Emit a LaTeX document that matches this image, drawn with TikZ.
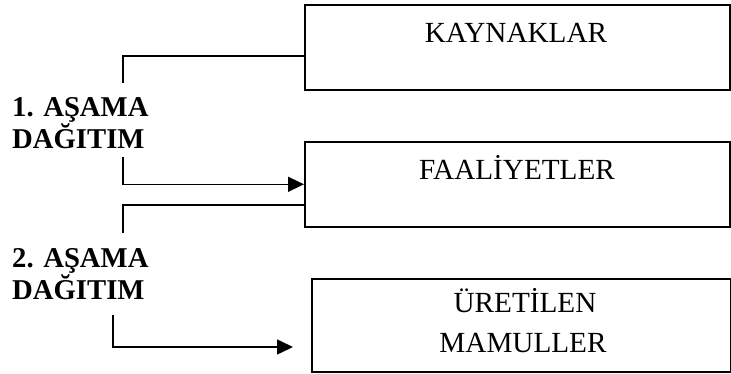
\documentclass[tikz,border=0pt]{standalone}
\usepackage{fontspec}
\setmainfont{Liberation Serif}
\usetikzlibrary{arrows.meta,calc}
\begin{document}
\begin{tikzpicture}[x=1pt,y=-1pt,
  box/.style={draw=black,line width=1.6pt,inner sep=0pt,anchor=north west},
  boxtext/.style={font=\fontsize{29.2}{35}\selectfont,anchor=base,inner sep=0pt},
  stagetext/.style={font=\fontsize{28.7}{34}\selectfont\bfseries,anchor=base west,inner sep=0pt},
  conn/.style={line width=1.5pt},
  arr/.style={line width=1.5pt,-{Triangle[length=16pt,width=15pt]}}]
\useasboundingbox (0,0) rectangle (731,374);
% boxes
\node[box,minimum width=425pt,minimum height=85pt] (k) at (304,4) {};
\node[box,minimum width=425pt,minimum height=85pt] (f) at (304,141) {};
\node[box,minimum width=419pt,minimum height=93pt] (u) at (311,278) {};
% box texts
\node[boxtext] (kt) at (516,43) {KAYNAKLAR};
\node[boxtext] (ft) at (517,180) {FAALİYETLER};
\node[boxtext] (ut1) at (525,312) {ÜRETİLEN};
\node[boxtext] (ut2) at (523,352) {MAMULLER};
% stage labels
\node[stagetext] (s1a) at (12,117) {1. AŞAMA};
\node[stagetext] (s1b) at (12,149) {DAĞITIM};
\node[stagetext] (s2a) at (12,267) {2. AŞAMA};
\node[stagetext] (s2b) at (12,299) {DAĞITIM};
% connector coordinates
\coordinate (c1) at (123,83);
\coordinate (c2) at (123,157);
\coordinate (c3) at (123,233);
\coordinate (c4) at (113,315);
\coordinate (c5) at (293,347);
% connectors
\draw[conn] ([yshift=-8.5pt]k.west) -| (c1);
\draw[arr] (c2) |- (f.west);
\draw[conn] ([yshift=-20.5pt]f.west) -| (c3);
\draw[arr] (c4) |- (c5);
\end{tikzpicture}
\end{document}
